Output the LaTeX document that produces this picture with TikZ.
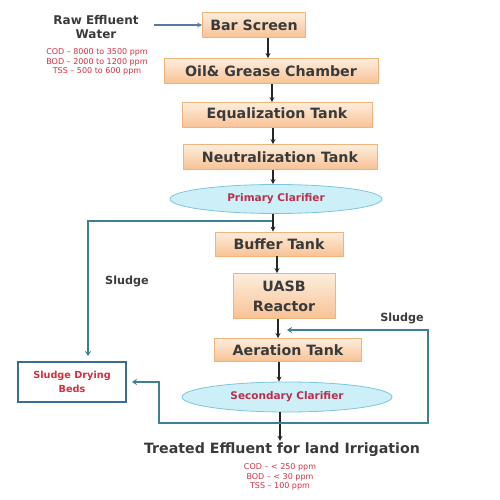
\documentclass[tikz,border=0pt]{standalone}
\usepackage{fontspec}
\setmainfont{DejaVu Sans}
\usetikzlibrary{arrows.meta,shapes.geometric}

\definecolor{boxtop}{HTML}{FDEDDD}
\definecolor{boxbot}{HTML}{F8C295}
\definecolor{boxline}{HTML}{EDB47C}
\definecolor{clarfill}{HTML}{CDEFF7}
\definecolor{clarline}{HTML}{7FC4DC}
\definecolor{clartext}{HTML}{B8304F}
\definecolor{loopline}{HTML}{3E7F92}
\definecolor{bedline}{HTML}{3B6C93}
\definecolor{rawline}{HTML}{5A78A6}
\definecolor{labeltext}{HTML}{3A3A3A}
\definecolor{limittext}{HTML}{D03040}

\tikzset{
  stage/.style={draw=boxline, line width=0.8pt, top color=boxtop, bottom color=boxbot,
    minimum height=25pt, inner sep=0pt, align=center, text=labeltext,
    font=\fontsize{14.2}{16}\selectfont\bfseries},
  clarifier/.style={ellipse, draw=clarline, line width=0.8pt, fill=clarfill,
    minimum width=212pt, minimum height=29pt, inner sep=0pt, text=clartext,
    font=\fontsize{10.5}{12}\selectfont\bfseries},
  limits/.style={align=center, text=limittext, inner sep=0pt,
    font=\fontsize{8}{9.5}\selectfont},
  sludgelabel/.style={text=labeltext, font=\fontsize{11.2}{13}\selectfont\bfseries},
  flow/.style={draw=black!85, line width=1.5pt, -{Stealth[length=5pt,width=5pt]}},
  loop/.style={draw=loopline, line width=2.2pt, -{Stealth[length=5pt,width=6pt]}}
}

\begin{document}
\begin{tikzpicture}[x=1pt,y=-1pt]
  \path (0,0) rectangle (500,500);

  \node[align=center, text=labeltext, inner sep=0pt, font=\fontsize{12}{14}\selectfont\bfseries] (raw) at (96,27) {Raw Effluent\\Water};
  \node[limits] (rawq) at (97,62) {COD -- 8000 to 3500 ppm\\BOD -- 2000 to 1200 ppm\\TSS -- 500 to 600 ppm};

  \node[stage, minimum width=103pt] (bar) at (254,25) {Bar Screen};
  \node[stage, minimum width=214pt] (oil) at (271,71) {Oil\& Grease Chamber};
  \node[stage, minimum width=190pt] (eq) at (277,115) {Equalization Tank};
  \node[stage, minimum width=194pt] (neu) at (280,157) {Neutralization Tank};
  \node[clarifier] (pc) at (276,199) {Primary Clarifier};
  \node[stage, minimum width=128pt, minimum height=24pt] (buf) at (279,244) {Buffer Tank};
  \node[stage, minimum width=102pt, minimum height=45pt] (uasb) at (284,296) {UASB\\[4pt]Reactor};
  \node[stage, minimum width=147pt, minimum height=23pt] (aer) at (288,350) {Aeration Tank};
  \node[clarifier, minimum width=210pt, minimum height=30pt] (sc) at (287,397) {Secondary Clarifier};

  \node[text=labeltext, inner sep=2pt, font=\fontsize{14.2}{16}\selectfont\bfseries] (out) at (282,450) {Treated Effluent for land Irrigation};
  \node[limits] (outq) at (280,477) {COD -- \textless{} 250 ppm\\BOD -- \textless{} 30 ppm\\TSS -- 100 ppm};

  \node[draw=bedline, line width=1.8pt, fill=white, minimum width=108pt, minimum height=40pt,
    inner sep=0pt, align=center, text=limittext, font=\fontsize{9.7}{14}\selectfont\bfseries] (sdb) at (72,382) {Sludge Drying\\Beds};

  \node[sludgelabel] (sl1) at (127,281) {Sludge};
  \node[sludgelabel] (sl2) at (402,318) {Sludge};

  \draw[draw=rawline, line width=1.5pt, -{Stealth[length=5pt,width=5pt]}, shorten <=15pt] (raw.east |- bar.west) -- (bar.west);

  \foreach \from/\to/\dx in {bar/oil/14, oil/eq/1, eq/neu/-4, neu/pc/-7, pc/buf/-3,
                             buf/uasb/-2, uasb/aer/-6, aer/sc/-9, sc/out/-7}
    \draw[flow] ([xshift=\dx pt]\from.south) -- ([xshift=\dx pt]\from.south |- \to.north);

  \coordinate (pcjoin) at (272,221);
  \coordinate (scjoin) at (280,423);
  \coordinate (retjoin) at (287,330);

  \draw[loop] (pcjoin) -| ([xshift=16pt,yshift=5pt]sdb.north);
  \draw[loop] (scjoin) -| (159,382) -- ([xshift=5pt]sdb.east);
  \draw[loop] (scjoin) -| (428,330) -- (retjoin);
\end{tikzpicture}
\end{document}
